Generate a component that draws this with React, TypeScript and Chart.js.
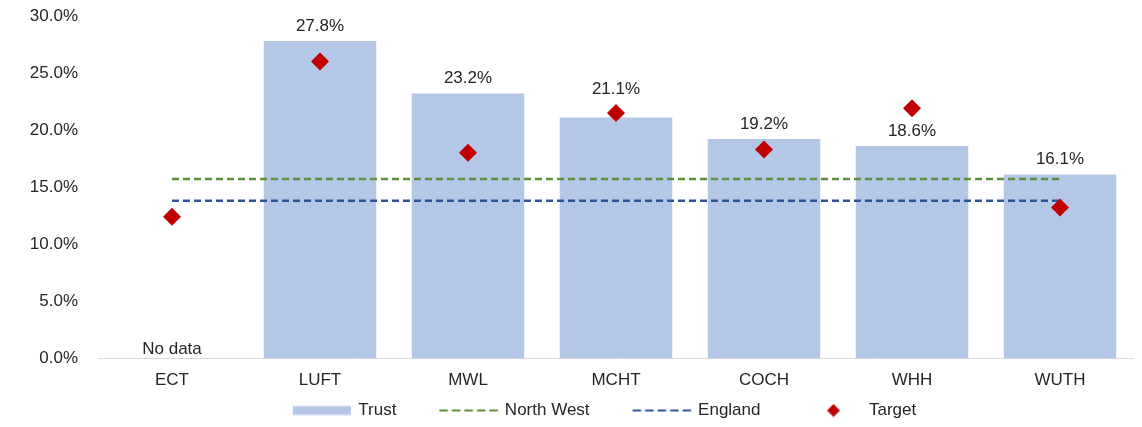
import React, { useEffect, useRef } from "react";
import { Chart, registerables } from "chart.js";

Chart.register(...registerables);

const categories = ["ECT", "LUFT", "MWL", "MCHT", "COCH", "WHH", "WUTH"];
const trustValues: (number | null)[] = [null, 27.8, 23.2, 21.1, 19.2, 18.6, 16.1];
const northWestValues = [15.7, 15.7, 15.7, 15.7, 15.7, 15.7, 15.7];
const englandValues = [13.8, 13.8, 13.8, 13.8, 13.8, 13.8, 13.8];
const targetValues = [12.4, 26.0, 18.0, 21.5, 18.3, 21.9, 13.2];
const yTicks = [0, 5, 10, 15, 20, 25, 30];
const legendNames = ["Trust", "North West", "England", "Target"];

const FONT = "'Liberation Sans', Arial, sans-serif";
const FS = 17;
const TEXT = "#262626";
const BAR = "#b4c7e7";
const GREEN = "#5e8f3a";
const BLUE = "#2f5597";
const RED = "#c00000";

function makeSymbol(kind: string): HTMLCanvasElement {
  const c = document.createElement("canvas");
  c.width = 104;
  c.height = 14;
  const ctx = c.getContext("2d")!;
  const x0 = 44;
  if (kind === "bar") {
    ctx.fillStyle = BAR;
    ctx.fillRect(x0, 2.5, 58, 9);
  } else if (kind === "nw" || kind === "en") {
    ctx.strokeStyle = kind === "nw" ? GREEN : BLUE;
    ctx.lineWidth = 2;
    ctx.setLineDash([8.5, 4]);
    ctx.beginPath();
    ctx.moveTo(x0, 7);
    ctx.lineTo(x0 + 60, 7);
    ctx.stroke();
  } else {
    const cx = x0 + 30;
    ctx.fillStyle = RED;
    ctx.beginPath();
    ctx.moveTo(cx, 0.5);
    ctx.lineTo(cx + 6.5, 7);
    ctx.lineTo(cx, 13.5);
    ctx.lineTo(cx - 6.5, 7);
    ctx.closePath();
    ctx.fill();
  }
  return c;
}

const labelPlugin = {
  id: "barLabels",
  afterLayout(chart: any) {
    const lg = chart.legend;
    if (lg) {
      lg.left += 13;
      lg.right += 13;
    }
  },
  afterDatasetsDraw(chart: any) {
    const ctx = chart.ctx;
    const barMeta = chart.getDatasetMeta(0);
    const tgtMeta = chart.getDatasetMeta(3);
    const yScale = chart.scales.y;
    ctx.save();
    ctx.font = `${FS}px ${FONT}`;
    ctx.fillStyle = TEXT;
    ctx.textAlign = "center";
    ctx.textBaseline = "middle";
    barMeta.data.forEach((bar: any, i: number) => {
      const v = trustValues[i];
      const x = tgtMeta.data[i].x;
      if (v === null || v === undefined) {
        ctx.fillText("No data", x, yScale.getPixelForValue(0) - 9);
        return;
      }
      let ly = bar.y - 15;
      const ty = tgtMeta.data[i].y;
      if (Math.abs(ty - ly) < 18) ly = ty - 9 - 15;
      ctx.fillText(v.toFixed(1) + "%", x, ly);
    });
    ctx.restore();
  },
};

export default function App() {
  const ref = useRef<HTMLCanvasElement | null>(null);
  useEffect(() => {
    if (!ref.current) return;
    const symbols = [makeSymbol("bar"), makeSymbol("nw"), makeSymbol("en"), makeSymbol("tg")];
    const chart = new Chart(ref.current, {
      type: "bar",
      data: {
        labels: categories,
        datasets: [
          {
            type: "bar",
            label: "Trust",
            data: trustValues,
            backgroundColor: BAR,
            categoryPercentage: 1,
            barPercentage: 0.76,
            order: 3,
          },
          {
            type: "line",
            label: "North West",
            data: northWestValues,
            borderColor: GREEN,
            borderWidth: 2.5,
            borderDash: [7, 4],
            pointRadius: 0,
            fill: false,
            order: 2,
          },
          {
            type: "line",
            label: "England",
            data: englandValues,
            borderColor: BLUE,
            borderWidth: 2.5,
            borderDash: [7, 4],
            pointRadius: 0,
            fill: false,
            order: 2,
          },
          {
            type: "line",
            label: "Target",
            data: targetValues,
            showLine: false,
            pointStyle: "rectRot",
            pointRadius: 9,
            pointBackgroundColor: RED,
            pointBorderColor: RED,
            pointBorderWidth: 0,
            order: 1,
          },
        ],
      } as any,
      options: {
        animation: false,
        responsive: true,
        maintainAspectRatio: false,
        layout: { autoPadding: false, padding: { top: 8, right: 0, bottom: -10, left: 0 } },
        scales: {
          x: {
            grid: { display: false, drawTicks: false },
            border: { display: true, color: "#d9d9d9", width: 1 },
            ticks: { color: TEXT, font: { family: FONT, size: FS }, padding: 12 },
            afterFit: (scale: any) => {
              scale.height = 42;
            },
          },
          y: {
            min: 0,
            max: 30,
            grid: { display: false, drawTicks: true, tickLength: 20 },
            border: { display: false },
            afterBuildTicks: (scale: any) => {
              scale.ticks = yTicks.map((v) => ({ value: v }));
            },
            afterFit: (scale: any) => {
              scale.width = 90;
            },
            ticks: {
              color: TEXT,
              font: { family: FONT, size: FS, lineHeight: 0.7 },
              padding: 0,
              callback: (v: any) => Number(v).toFixed(1) + "%",
            },
          },
        },
        plugins: {
          tooltip: { enabled: false },
          legend: {
            position: "bottom",
            labels: {
              usePointStyle: true,
              pointStyleWidth: 98,
              boxHeight: 14,
              padding: 2,
              color: TEXT,
              font: { family: FONT, size: FS },
              generateLabels: () =>
                legendNames.map((t, i) => ({
                  text: t,
                  pointStyle: symbols[i],
                  fillStyle: "transparent",
                  strokeStyle: "transparent",
                  lineWidth: 0,
                  hidden: false,
                  datasetIndex: i,
                  fontColor: TEXT,
                })),
            },
          },
        },
      } as any,
      plugins: [labelPlugin],
    });
    return () => chart.destroy();
  }, []);
  return (
    <div style={{ position: "relative", width: "1126px", height: "411px" }}>
      <canvas ref={ref} />
    </div>
  );
}
